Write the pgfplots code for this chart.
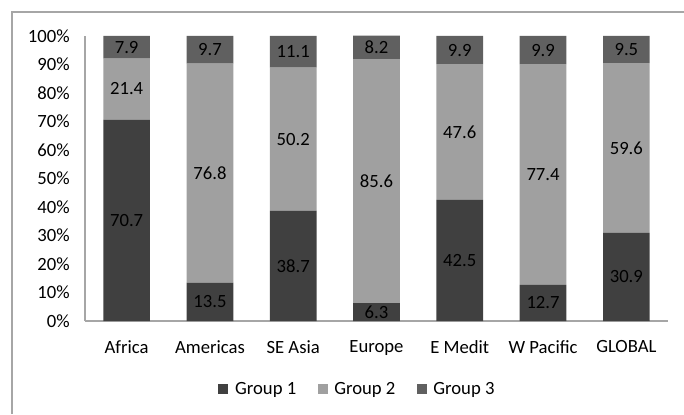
\documentclass[border=0pt]{standalone}
\usepackage{pgfplots}
\pgfplotsset{compat=1.18}
\usepackage{fontspec}
\setmainfont{Carlito}
\definecolor{gA}{HTML}{404040}
\definecolor{gB}{HTML}{A0A0A0}
\definecolor{gC}{HTML}{606060}
\definecolor{axc}{HTML}{A6A6A6}
\begin{document}
\begin{tikzpicture}
\path[use as bounding box] (-63.75pt,-69.75pt) rectangle (449.25pt,240.75pt);
\draw[gray!70, line width=0.8pt] (-54.75pt,-69.75pt) -- (-54.75pt,231.75pt) -- (449.25pt,231.75pt);
\begin{axis}[
  at={(0,0)}, anchor=south west,
  scale only axis, width=437.25pt, height=213.75pt,
  ybar stacked, bar width=35pt,
  xmin=-0.5, xmax=6.5, ymin=0, ymax=100,
  xtick={0,...,6},
  xticklabels={Africa,Americas,SE Asia,Europe,E Medit,W Pacific,GLOBAL},
  ytick={0,10,...,100},
  yticklabel={\pgfmathprintnumber{\tick}\%},
  /pgf/number format/assume math mode=true,
  font=\fontsize{14}{16}\selectfont,
  axis x line*=bottom, axis y line*=left,
  axis line style={axc, line width=0.8pt},
  major tick length=0pt,
  tick style={draw=none},
  yticklabel style={xshift=-8pt},
  xticklabel style={yshift=-11pt},
  clip=false,
  visualization depends on=rawy \as \rawy,
  nodes near coords={\pgfmathprintnumber[fixed,precision=1,fixed zerofill]{\rawy}},
  every node near coord/.append style={anchor=center, text=black, font=\fontsize{14}{16}\selectfont},
  legend style={at={(0.468,-0.24)}, anchor=center, draw=none, legend columns=3,
    /tikz/every odd column/.append style={column sep=3pt},
    /tikz/every even column/.append style={column sep=14pt}, font=\fontsize{14}{16}\selectfont},
  legend image code/.code={\fill[#1] (0pt,-3.75pt) rectangle (7.5pt,3.75pt);},
]
\addplot[fill=gA, draw=none] coordinates {(0,70.7) (1,13.5) (2,38.7) (3,6.3) (4,42.5) (5,12.7) (6,30.9)};
\addplot[fill=gB, draw=none] coordinates {(0,21.4) (1,76.8) (2,50.2) (3,85.6) (4,47.6) (5,77.4) (6,59.6)};
\addplot[fill=gC, draw=none] coordinates {(0,7.9) (1,9.7) (2,11.1) (3,8.2) (4,9.9) (5,9.9) (6,9.5)};
\legend{Group 1, Group 2, Group 3}
\end{axis}
\end{tikzpicture}
\end{document}
